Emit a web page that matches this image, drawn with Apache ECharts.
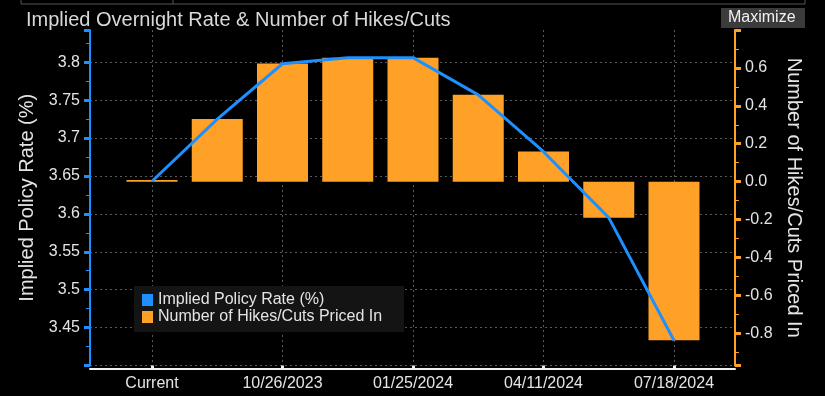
<!DOCTYPE html>
<html>
<head>
<meta charset="utf-8">
<script src="https://cdn.jsdelivr.net/npm/echarts@6/dist/echarts.min.js"></script>
<style>
  html, body { margin: 0; padding: 0; background: #000; }
  #main { width: 825px; height: 396px; }
</style>
</head>
<body>
<div id="main"></div>
<script>
    // meeting dates, "Current" first
    var categories = ['Current', '09/07/2023', '10/26/2023', '12/07/2023', '01/25/2024',
                      '03/07/2024', '04/11/2024', '06/06/2024', '07/18/2024'];
    // implied policy rate (%), left axis
    var impliedRate = [3.643, 3.725, 3.798, 3.806, 3.806, 3.757, 3.682, 3.595, 3.433];
    // number of hikes/cuts priced in, right axis
    var hikesCuts = [0.008, 0.33, 0.623, 0.653, 0.653, 0.459, 0.159, -0.19, -0.837];

    var rateMin = 3.4, rateMax = 3.8425;
    var hikeMin = -0.97, hikeMax = 0.8;

    var colorRate = '#1e8fff';
    var colorHike = '#ffa126';
    var txt = '#e4e4e4';
    var dashLine = { color: '#5a5a5a', type: [2, 3], width: 1 };

    var chart = echarts.init(document.getElementById('main'));

    var option = {
        backgroundColor: '#000',
        animation: false,
        textStyle: { fontFamily: 'Liberation Sans, Arial, sans-serif' },
        title: {
            text: 'Implied Overnight Rate & Number of Hikes/Cuts',
            left: 21, top: 5,
            textStyle: { color: '#d8d8d8', fontSize: 20, fontWeight: 'normal' }
        },
        graphic: [
            { type: 'polyline', shape: { points: [[21, 0], [21, 4], [805, 4], [805, 0]] },
              style: { stroke: '#555', lineWidth: 1, fill: null } },
            { type: 'line', shape: { x1: 173, y1: 0, x2: 173, y2: 4 }, style: { stroke: '#555', lineWidth: 1 } },
            { type: 'rect', shape: { x: 721, y: 8, width: 84, height: 20 }, style: { fill: '#3b3b3b' } },
            { type: 'text', left: 728, top: 10,
              style: { text: 'Maximize', fill: '#f0f0f0', fontSize: 16 } }
        ],
        legend: {
            orient: 'vertical',
            left: 134, top: 286,
            backgroundColor: '#141414',
            padding: [6, 22, 7, 8],
            itemWidth: 11, itemHeight: 12, itemGap: 1,
            icon: 'rect',
            textStyle: { color: txt, fontSize: 16, lineHeight: 14 },
            data: ['Implied Policy Rate (%)', 'Number of Hikes/Cuts Priced In']
        },
        grid: [
            { left: 90, right: 90, top: 30, bottom: 30.5 },
            { left: 152, right: 151, top: 30, bottom: 30.5 }
        ],
        xAxis: [
            {
                gridIndex: 0, type: 'value', min: 0, max: 1, offset: 3,
                axisLine: { show: true, onZero: false, lineStyle: { color: '#f0f0f0', width: 2 } },
                axisTick: { show: false }, axisLabel: { show: false }, splitLine: { show: false }
            },
            {
                gridIndex: 1, type: 'category', data: categories, boundaryGap: false, offset: 3,
                axisLine: { show: false, onZero: false },
                axisTick: { show: true, interval: 1, inside: true, length: 3,
                            lineStyle: { color: '#f0f0f0', width: 3 } },
                axisLabel: { interval: 1, color: txt, fontSize: 16, margin: 7 },
                splitLine: { show: true, interval: 1, lineStyle: dashLine }
            }
        ],
        yAxis: [
            {
                gridIndex: 0, type: 'value', position: 'left',
                min: rateMin, max: rateMax, interval: 0.05,
                name: 'Implied Policy Rate (%)', nameLocation: 'middle', nameGap: 47,
                nameTextStyle: { color: txt, fontSize: 20 },
                axisLine: { show: true, lineStyle: { color: colorRate, width: 2 } },
                axisTick: { show: true, length: 6, lineStyle: { color: colorRate, width: 3 } },
                minorTick: { show: true, splitNumber: 2, length: 4, lineStyle: { color: colorRate, width: 1 } },
                axisLabel: { color: txt, fontSize: 16, margin: 10, showMaxLabel: false, showMinLabel: false },
                splitLine: { show: true, showMaxLine: false, lineStyle: dashLine }
            },
            {
                gridIndex: 0, type: 'value', position: 'right',
                min: hikeMin, max: hikeMax, splitNumber: 9,
                name: 'Number of Hikes/Cuts Priced In', nameLocation: 'middle', nameGap: 45, nameRotate: -90,
                nameTextStyle: { color: txt, fontSize: 20 },
                axisLine: { show: true, lineStyle: { color: colorHike, width: 2 } },
                axisTick: { show: true, length: 6, lineStyle: { color: colorHike, width: 3 } },
                minorTick: { show: true, splitNumber: 2, length: 4, lineStyle: { color: colorHike, width: 1 } },
                axisLabel: { color: txt, fontSize: 16, margin: 10, showMaxLabel: false, showMinLabel: false,
                             formatter: function (v) { return v.toFixed(1); } },
                splitLine: { show: false }
            },
            { gridIndex: 1, type: 'value', min: rateMin, max: rateMax, show: false },
            { gridIndex: 1, type: 'value', min: hikeMin, max: hikeMax, show: false }
        ],
        series: [
            {
                name: 'Number of Hikes/Cuts Priced In', type: 'bar',
                xAxisIndex: 1, yAxisIndex: 3,
                data: hikesCuts, barWidth: 51, clip: false,
                itemStyle: { color: colorHike }
            },
            {
                name: 'Implied Policy Rate (%)', type: 'line',
                xAxisIndex: 1, yAxisIndex: 2,
                data: impliedRate, showSymbol: false, symbol: 'none', z: 5,
                itemStyle: { color: colorRate },
                lineStyle: { color: colorRate, width: 3 }
            }
        ]
    };
    chart.setOption(option);
</script>
</body>
</html>
